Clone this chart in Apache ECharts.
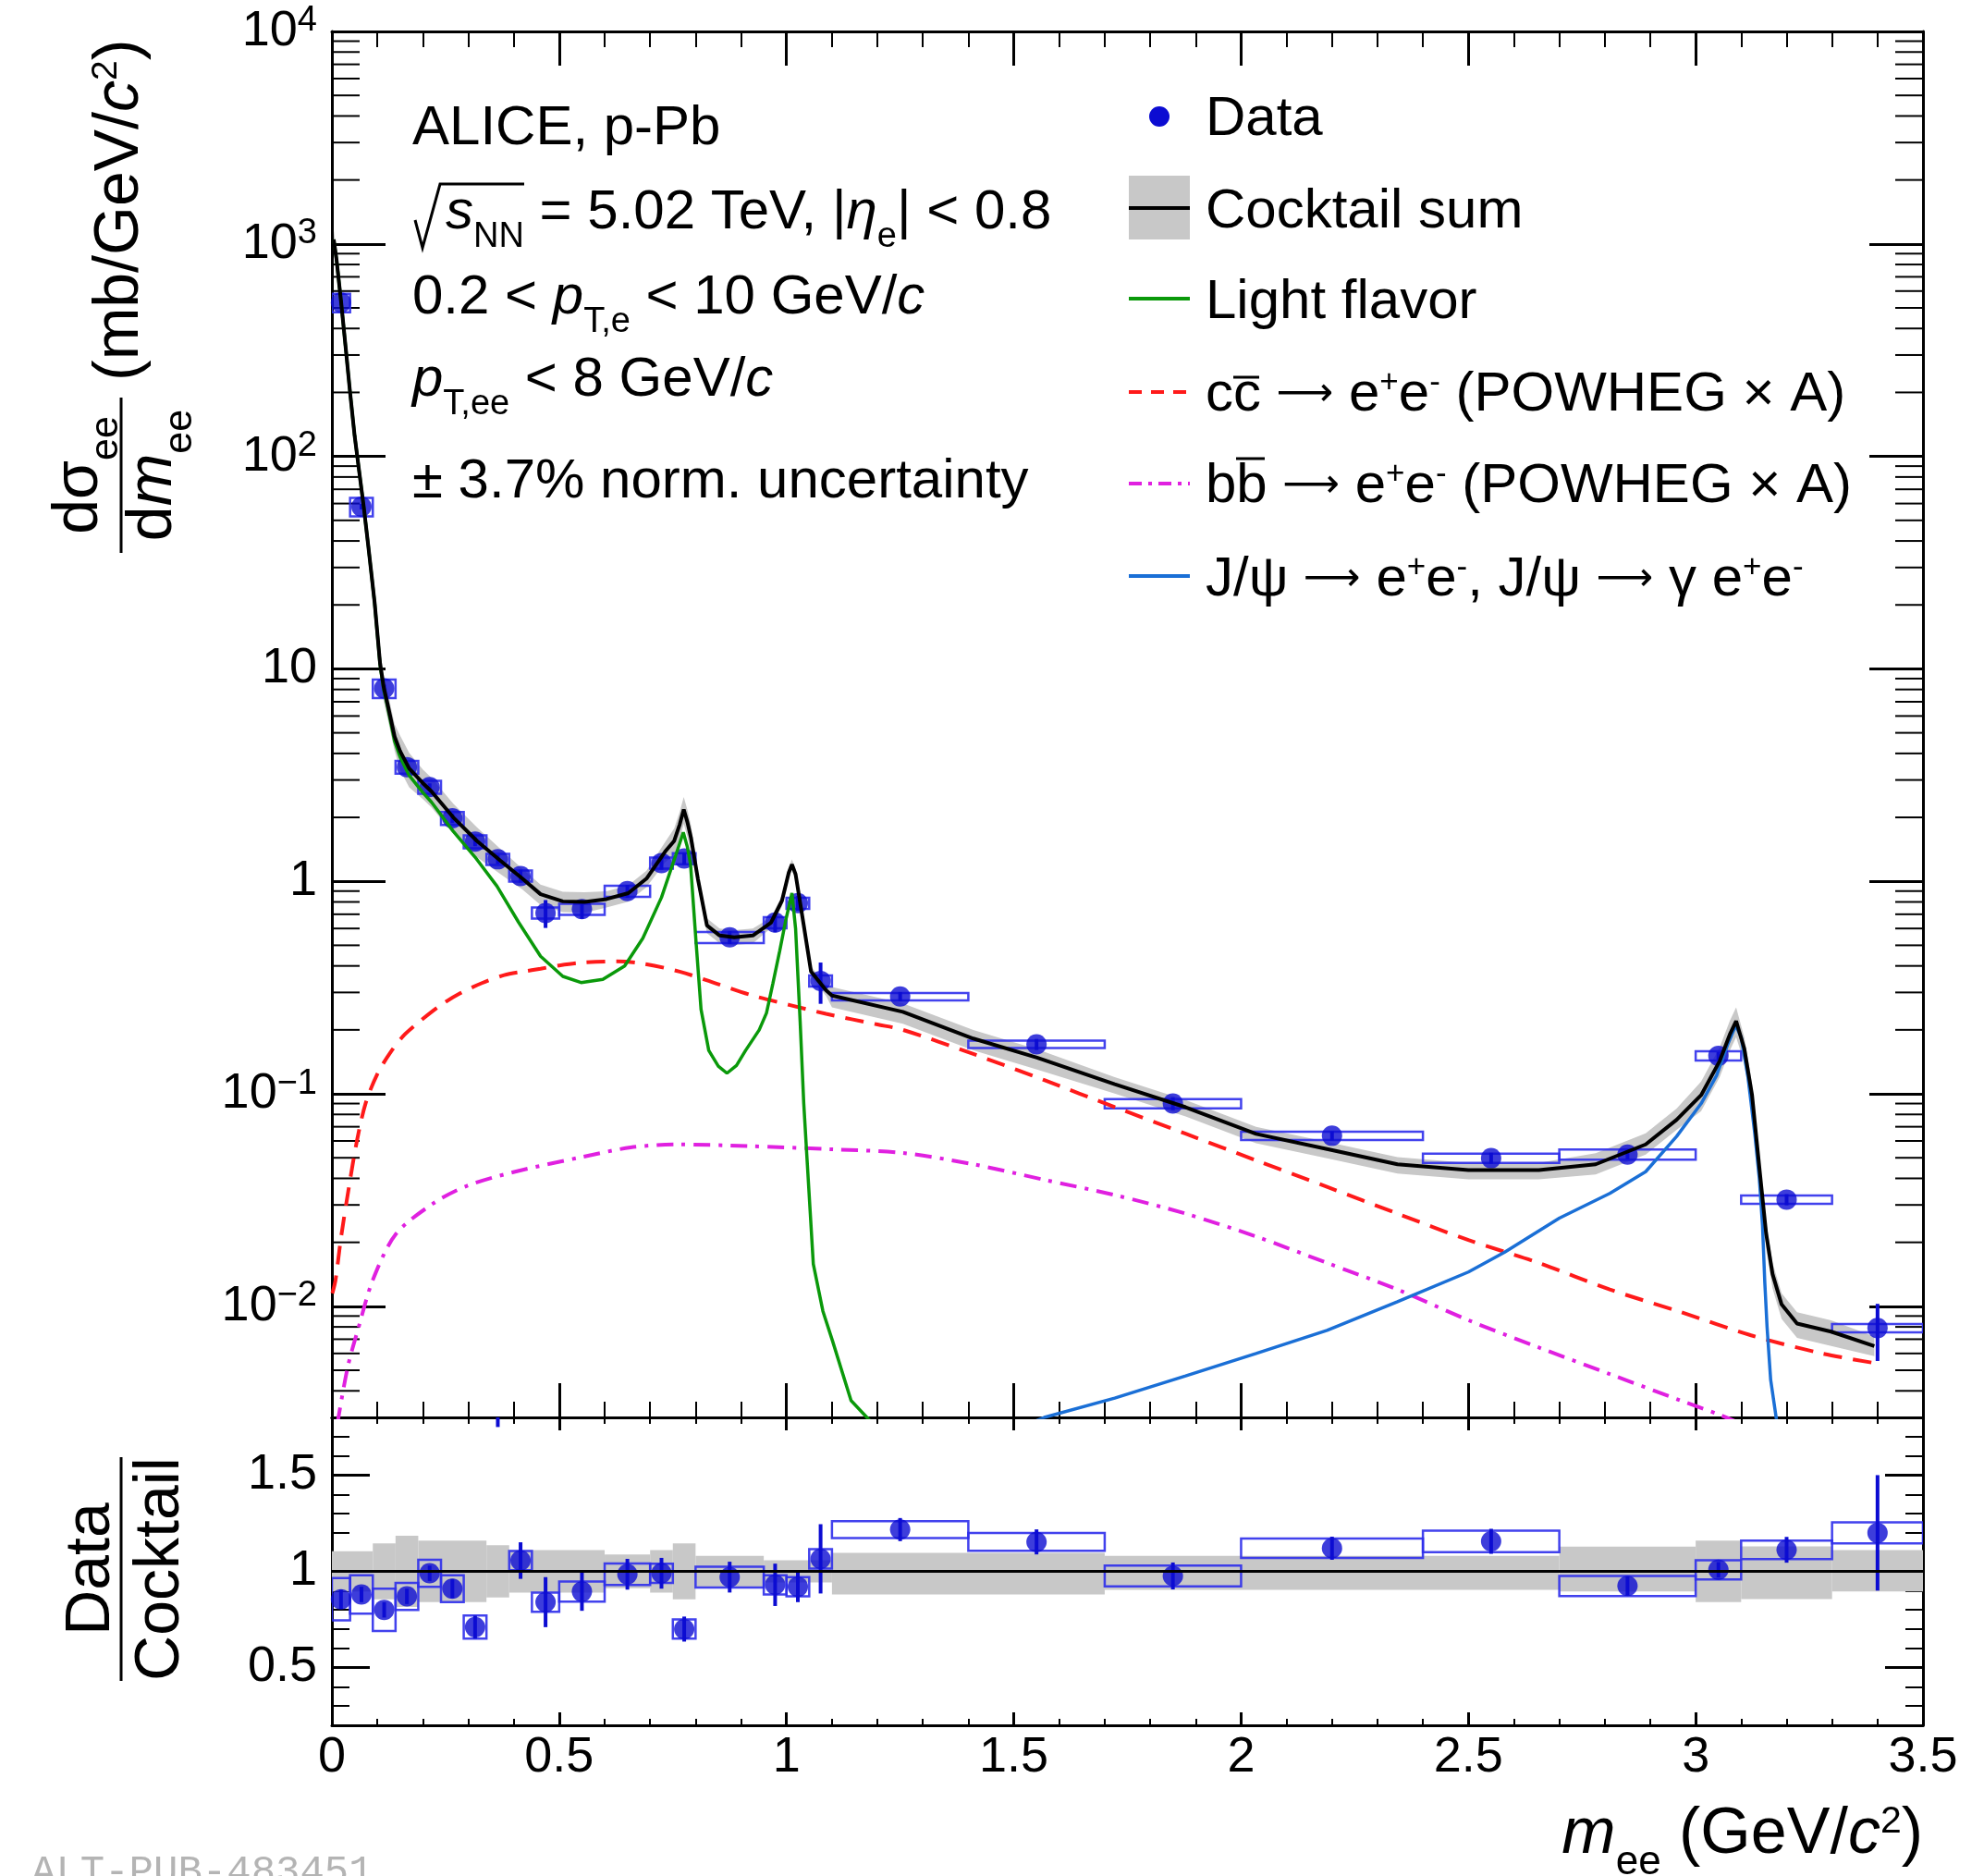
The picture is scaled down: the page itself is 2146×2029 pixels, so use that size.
<!DOCTYPE html>
<html>
<head>
<meta charset="utf-8">
<title>ALICE p-Pb dielectron mass spectrum</title>
<script src="https://cdn.jsdelivr.net/npm/echarts@6.0.0/dist/echarts.min.js"></script>
<style>
  html, body { margin: 0; padding: 0; background: #fff; }
  #chart { width: 2146px; height: 2029px; }
</style>
</head>
<body>
<div id="chart"></div>
<script>
// ---- values ----
const ratioTickLabels = ['0.5', '1', '1.5'];

// cocktail sum (black) [m, dsigma/dm]
const cocktail = [[0.004,1050],[0.01,850],[0.02,540],[0.03,330],[0.04,200],[0.05,125],[0.06,85],[0.07,58],[0.08,38],
  [0.094,20.5],[0.106,10.6],[0.114,8.2],[0.122,6.9],[0.138,4.8],[0.15,4.1],[0.17,3.4],[0.2,2.9],[0.219,2.65],[0.267,2.0],
  [0.319,1.55],[0.371,1.25],[0.419,1.03],[0.459,0.87],[0.508,0.805],[0.556,0.8],[0.604,0.825],[0.652,0.88],[0.692,1.03],
  [0.733,1.38],[0.753,1.55],[0.765,1.85],[0.774,2.18],[0.782,1.9],[0.79,1.6],[0.805,1.03],[0.825,0.62],[0.853,0.556],
  [0.885,0.545],[0.926,0.556],[0.966,0.64],[0.99,0.81],[1.005,1.1],[1.012,1.2],[1.02,1.08],[1.038,0.62],[1.054,0.376],
  [1.087,0.307],[1.1,0.29],[1.256,0.243],[1.411,0.182],[1.551,0.148],[1.722,0.111],[1.878,0.0865],[2.033,0.0648],
  [2.189,0.055],[2.344,0.0466],[2.5,0.0438],[2.655,0.0438],[2.78,0.0466],[2.89,0.0578],[2.958,0.0755],[3.012,0.0986],
  [3.053,0.143],[3.075,0.19],[3.089,0.22],[3.107,0.163],[3.124,0.0986],[3.141,0.043],[3.155,0.022],[3.169,0.0142],
  [3.189,0.0102],[3.223,0.0083],[3.298,0.0076],[3.393,0.0065]];

// light flavor (green)
const lightFlavor = [[0.004,1050],[0.01,850],[0.02,540],[0.03,330],[0.04,200],[0.05,125],[0.06,85],[0.07,58],[0.08,38],
  [0.094,20.4],[0.106,10.4],[0.114,8.0],[0.122,6.7],[0.138,4.55],[0.15,3.85],[0.17,3.15],[0.2,2.62],[0.219,2.36],
  [0.267,1.72],[0.315,1.3],[0.363,0.95],[0.411,0.64],[0.459,0.444],[0.508,0.357],[0.548,0.334],[0.596,0.346],
  [0.644,0.4],[0.684,0.54],[0.725,0.84],[0.757,1.34],[0.773,1.7],[0.782,1.45],[0.789,1.2],[0.801,0.52],[0.812,0.25],
  [0.829,0.16],[0.85,0.135],[0.869,0.125],[0.89,0.136],[0.91,0.16],[0.94,0.2],[0.956,0.24],[0.97,0.33],[0.985,0.47],
  [0.998,0.65],[1.012,0.88],[1.02,0.6],[1.03,0.22],[1.038,0.09],[1.045,0.05],[1.059,0.0158],[1.08,0.0095],
  [1.101,0.0069],[1.142,0.0036],[1.19,0.0028]];

// c cbar -> ee (red dashed)
const charm = [[0.001,0.0115],[0.008,0.0133],[0.02,0.021],[0.038,0.037],[0.055,0.06],[0.074,0.09],[0.1,0.124],
  [0.13,0.158],[0.16,0.19],[0.194,0.22],[0.24,0.262],[0.283,0.298],[0.33,0.332],[0.379,0.362],[0.42,0.376],
  [0.459,0.388],[0.5,0.402],[0.548,0.414],[0.628,0.42],[0.684,0.41],[0.765,0.376],[0.846,0.33],[0.926,0.29],
  [1.006,0.262],[1.087,0.238],[1.2,0.212],[1.256,0.2],[1.411,0.154],[1.567,0.116],[1.722,0.0866],[1.878,0.0649],
  [2.033,0.0486],[2.189,0.0365],[2.344,0.0273],[2.5,0.0205],[2.655,0.016],[2.811,0.012],[2.967,0.0094],
  [3.122,0.0073],[3.278,0.006],[3.395,0.0054]];

// b bbar -> ee (magenta dash-dot)
const beauty = [[0.012,0.0028],[0.035,0.0052],[0.059,0.008],[0.09,0.0133],[0.141,0.0219],[0.224,0.0306],
  [0.296,0.0368],[0.399,0.0428],[0.554,0.0506],[0.657,0.0559],[0.76,0.0578],[0.915,0.0568],[1.1,0.0548],
  [1.256,0.0527],[1.411,0.0466],[1.567,0.0394],[1.722,0.0334],[1.878,0.0273],[2.033,0.0213],[2.189,0.016],
  [2.344,0.012],[2.5,0.0086],[2.655,0.0064],[2.811,0.0048],[2.967,0.0036],[3.05,0.0031],[3.1,0.0028]];

// J/psi (azure)
const jpsi = [[1.55,0.0029],[1.567,0.003],[1.722,0.0037],[1.878,0.0047],[2.033,0.006],[2.189,0.0077],[2.344,0.0105],
  [2.5,0.0145],[2.58,0.018],[2.7,0.026],[2.811,0.034],[2.89,0.043],[2.958,0.063],[3.012,0.09],[3.046,0.122],
  [3.07,0.17],[3.088,0.21],[3.1,0.185],[3.115,0.12],[3.13,0.065],[3.14,0.04],[3.147,0.024],[3.152,0.013],
  [3.157,0.008],[3.165,0.0045],[3.178,0.0029]];

// data points
const binEdges = [0,0.04,0.09,0.14,0.19,0.24,0.29,0.34,0.39,0.44,0.5,0.6,0.7,0.75,0.8,0.95,1.0,1.05,1.1,1.4,1.7,2.0,2.4,2.7,3.0,3.1,3.3,3.5];
const dataM = [0.02,0.065,0.115,0.165,0.215,0.265,0.315,0.365,0.415,0.47,0.55,0.65,0.725,0.775,0.875,0.975,1.025,1.075,1.25,1.55,1.85,2.2,2.55,2.85,3.05,3.2,3.4];
const dataV = [530,58,8.1,3.45,2.78,1.98,1.54,1.27,1.06,0.71,0.74,0.9,1.22,1.28,0.545,0.64,0.79,0.34,0.287,0.171,0.09,0.0635,0.0498,0.0518,0.151,0.0318,0.0079];
const dataStat = [0.03,0.03,0.04,0.04,0.04,0.05,0.05,0.05,0.07,0.15,0.1,0.07,0.07,0.06,0.07,0.1,0.08,0.22,0.05,0.06,0.07,0.05,0.06,0.05,0.04,0.06,0.3];
const dataSys = [0.1,0.1,0.1,0.07,0.07,0.07,0.07,0.06,0.06,0.06,0.06,0.06,0.06,0.06,0.06,0.06,0.06,0.06,0.04,0.04,0.05,0.045,0.05,0.055,0.05,0.045,0.045];

// data / cocktail
const ratioV = [0.855,0.88,0.8,0.87,0.99,0.91,0.71,1.95,1.056,0.84,0.895,0.985,0.99,0.7,0.97,0.93,0.92,1.065,1.217,1.153,0.976,1.12,1.156,0.924,1.008,1.112,1.2];
const ratioStat = [0.05,0.04,0.04,0.04,0.04,0.05,0.06,0.2,0.095,0.13,0.1,0.08,0.08,0.065,0.08,0.11,0.08,0.18,0.06,0.065,0.07,0.06,0.065,0.05,0.04,0.067,0.3];
const ratioSys = [0.11,0.1,0.11,0.07,0.07,0.07,0.06,0.1,0.05,0.05,0.052,0.056,0.05,0.05,0.054,0.05,0.05,0.05,0.044,0.046,0.054,0.05,0.056,0.052,0.05,0.048,0.055];

// cocktail uncertainty band (relative)
const bandEdges = [0,0.09,0.14,0.19,0.34,0.39,0.6,0.7,0.75,0.8,0.95,1.1,1.7,2.7,3.0,3.1,3.3,3.5];
const bandHi = [0.105,0.145,0.185,0.16,0.136,0.11,0.088,0.11,0.145,0.08,0.058,0.096,0.08,0.128,0.16,0.13,0.11];
const bandLo = [0.105,0.145,0.185,0.16,0.136,0.11,0.088,0.11,0.145,0.08,0.058,0.12,0.096,0.104,0.16,0.144,0.104];

// ---- styling ----
const FONT = '"Liberation Sans", Arial, Helvetica, sans-serif';
const BLUE = '#0c0cd2';
const BOX = 'rgba(45,45,235,0.9)';
const GRAY = '#c8c8c8';

function bandAt(m) {
  for (let i = 0; i < bandHi.length; i++) {
    if (m >= bandEdges[i] && m < bandEdges[i + 1]) return [bandHi[i], bandLo[i]];
  }
  return [bandHi[bandHi.length - 1], bandLo[bandLo.length - 1]];
}

function xAx(grid, pos, major, minor, labels) {
  return {
    type: 'value', gridIndex: grid, position: pos, min: 0, max: 3.5, interval: 0.5,
    axisLine: {onZero: false, lineStyle: {color: '#000', width: 3}},
    axisTick: {inside: true, length: major, lineStyle: {color: '#000', width: 3}},
    minorTick: {show: true, splitNumber: 5, length: minor, lineStyle: {color: '#000', width: 2}},
    splitLine: {show: false}, minorSplitLine: {show: false},
    axisLabel: labels ? {show: true, margin: 8, fontSize: 54, fontFamily: FONT, color: '#000',
      showMinLabel: true, showMaxLabel: true} : {show: false}
  };
}

function logLabel(v) {
  const l = Math.log10(v), e = Math.round(l);
  if (Math.abs(l - e) > 1e-6) return '';
  if (e === 0) return '{b|1}';
  if (e === 1) return '{b|10}';
  return '{b|10}{s|' + (e < 0 ? '\u2212' + (-e) : e) + '}';
}

function yLog(pos, labels) {
  return {
    type: 'log', logBase: 10, gridIndex: 0, position: pos, min: 0.003, max: 10000,
    axisLine: {onZero: false, lineStyle: {color: '#000', width: 3}},
    axisTick: {inside: true, length: 58, lineStyle: {color: '#000', width: 3}},
    minorTick: {show: false}, splitLine: {show: false},
    axisLabel: labels ? {
      show: true, margin: 16, formatter: logLabel, showMinLabel: true, showMaxLabel: true,
      rich: {
        b: {fontSize: 54, lineHeight: 60, fontFamily: FONT, color: '#000'},
        s: {fontSize: 38, lineHeight: 41, verticalAlign: 'top', fontFamily: FONT, color: '#000'}
      }
    } : {show: false}
  };
}

function yRatio(pos, labels) {
  return {
    type: 'value', gridIndex: 1, position: pos, min: 0.2, max: 1.8, splitNumber: 3,
    axisLine: {onZero: false, lineStyle: {color: '#000', width: 3}},
    axisTick: {inside: true, length: 41, lineStyle: {color: '#000', width: 3}},
    minorTick: {show: true, splitNumber: 5, length: 19, lineStyle: {color: '#000', width: 2}},
    splitLine: {show: false}, minorSplitLine: {show: false},
    axisLabel: labels ? {
      show: true, margin: 16, fontSize: 54, fontFamily: FONT, color: '#000',
      formatter: function (v) {
        const t = ratioTickLabels.find(s => Math.abs(parseFloat(s) - v) < 1e-6);
        return t || '';
      }
    } : {show: false}
  };
}

const G0 = {xAxisIndex: 0, yAxisIndex: 0};
const G1 = {xAxisIndex: 2, yAxisIndex: 2};

function curve(pts, color, width, type, smooth) {
  return Object.assign({
    type: 'line', data: pts, symbol: 'none', showSymbol: false, smooth: smooth || false,
    clip: true, silent: true, lineStyle: {color: color, width: width, type: type || 'solid'}
  }, G0);
}

function boxRender(params, api) {
  const a = api.coord([api.value(0), api.value(3)]);
  const b = api.coord([api.value(1), api.value(2)]);
  return {type: 'rect', shape: {x: a[0], y: a[1], width: b[0] - a[0], height: b[1] - a[1]},
    style: {fill: 'none', stroke: BOX, lineWidth: 2.5}};
}
function barRender(params, api) {
  const a = api.coord([api.value(0), api.value(1)]);
  const b = api.coord([api.value(0), api.value(2)]);
  return {type: 'line', shape: {x1: a[0], y1: a[1], x2: b[0], y2: b[1]},
    style: {stroke: BLUE, lineWidth: 4}};
}

// minor decade ticks of the log axis (2..9 x 10^n), both sides of the frame
const logMinor = [];
for (let e = -3; e <= 3; e++) {
  for (let k = 2; k <= 9; k++) {
    const v = k * Math.pow(10, e);
    if (v > 0.00301 && v < 1e4) logMinor.push([0, v]);
  }
}

// data series
const topBoxes = dataM.map((m, i) => [binEdges[i], binEdges[i + 1], dataV[i] * (1 - dataSys[i]), dataV[i] * (1 + dataSys[i])]);
const topBars = dataM.map((m, i) => [m, dataV[i] * (1 - dataStat[i]), dataV[i] * (1 + dataStat[i])]);
const topPts = dataM.map((m, i) => [m, dataV[i]]);
const rBoxes = dataM.map((m, i) => [binEdges[i], binEdges[i + 1], ratioV[i] - ratioSys[i], ratioV[i] + ratioSys[i]]);
const rBars = dataM.map((m, i) => [m, ratioV[i] - ratioStat[i], ratioV[i] + ratioStat[i]]);
const rPts = dataM.map((m, i) => [m, ratioV[i]]);
const rBand = bandHi.map((h, i) => [bandEdges[i], bandEdges[i + 1], 1 - bandLo[i], 1 + h]);

// ---- text helpers ----
function richSet(fs) {
  const c = {fontFamily: FONT, fill: '#000', color: '#000'};
  const sup = Math.round(fs * 0.58);
  return {
    n: Object.assign({fontSize: fs, lineHeight: 1.5 * fs}, c),
    i: Object.assign({fontSize: fs, lineHeight: 1.5 * fs, fontStyle: 'italic'}, c),
    ar: Object.assign({fontSize: Math.round(fs * 0.72), lineHeight: 1.5 * fs}, c, {fontFamily: '"DejaVu Sans", sans-serif'}),
    sub: Object.assign({fontSize: Math.round(fs * 0.63), lineHeight: Math.round(fs * 0.66), verticalAlign: 'bottom'}, c),
    sup: Object.assign({fontSize: sup, lineHeight: sup, verticalAlign: 'top',
      padding: [Math.round(fs * 0.25), 0, 0, 0]}, c)
  };
}
function txt(x, base, str, fs, align) {
  return {type: 'text', x: x, y: base - 0.3465 * fs, silent: true, z: 100,
    style: {text: str, rich: richSet(fs), align: align || 'left', verticalAlign: 'middle',
      fontSize: fs, fontFamily: FONT, fill: '#000'}};
}
function rtxt(cx, cy, str, fs, align) {
  return {type: 'text', x: cx, y: cy, rotation: Math.PI / 2, silent: true, z: 100,
    style: {text: str, rich: richSet(fs), align: align || 'center', verticalAlign: 'middle',
      fontSize: fs, fontFamily: FONT, fill: '#000'}};
}
function seg(x1, y1, x2, y2, color, w, dash) {
  return {type: 'line', silent: true, z: 100, shape: {x1: x1, y1: y1, x2: x2, y2: y2},
    style: {stroke: color, lineWidth: w, lineDash: dash || null}};
}

const SUPPM = '{n|e}{sup|+}{n|e}{sup|-}';
const ARROW = '{n| }{ar|\u27f6}{n| }';
const graphics = [
  // top-left annotation
  txt(446, 160, '{n|ALICE, p-Pb}', 60),
  {type: 'polyline', silent: true, z: 100, shape: {points: [[449, 238], [457, 268], [476, 199], [567, 199]]},
    style: {stroke: '#000', lineWidth: 3, fill: null}},
  txt(482, 251, '{i|s}{sub|NN}{n| = 5.02 TeV, |}{i|\u03b7}{sub|e}{n|| < 0.8}', 60),
  txt(446, 343, '{n|0.2 < }{i|p}{sub|T,e}{n| < 10 GeV/}{i|c}', 60),
  txt(446, 432, '{i|p}{sub|T,ee}{n| < 8 GeV/}{i|c}', 60),
  txt(446, 542, '{n|\u00b1 3.7% norm. uncertainty}', 60),

  // legend
  {type: 'circle', silent: true, z: 100, shape: {cx: 1254, cy: 126, r: 11}, style: {fill: BLUE}},
  txt(1304, 150, '{n|Data}', 60),
  {type: 'rect', silent: true, z: 99, shape: {x: 1221, y: 190, width: 66, height: 69}, style: {fill: GRAY}},
  seg(1221, 225, 1287, 225, '#000', 4),
  txt(1304, 250, '{n|Cocktail sum}', 60),
  seg(1221, 323, 1287, 323, '#0a990a', 4),
  txt(1304, 348, '{n|Light flavor}', 60),
  seg(1221, 424, 1287, 424, '#ff1a1a', 4, [14, 10]),
  txt(1304, 448, '{n|cc}' + ARROW + SUPPM + '{n| (POWHEG \u00d7 A)}', 60),
  seg(1334, 408, 1362, 408, '#000', 3),
  seg(1221, 523, 1287, 523, '#e020e0', 4, [14, 7, 4, 7]),
  txt(1304, 547, '{n|bb}' + ARROW + SUPPM + '{n| (POWHEG \u00d7 A)}', 60),
  seg(1337, 496, 1368, 496, '#000', 3),
  seg(1221, 623, 1287, 623, '#1a6fd6', 4),
  txt(1304, 648, '{n|J/\u03c8}' + ARROW + SUPPM + '{n|, J/\u03c8}' + ARROW + '{n|\u03b3 }' + SUPPM, 60),

  // y title, top panel
  rtxt(86, 514, '{n|d\u03c3}{sub|ee}', 68),
  rtxt(166, 514, '{n|d}{i|m}{sub|ee}', 68),
  seg(131, 430, 131, 598, '#000', 3),
  rtxt(130, 412, '{n|(mb/GeV/}{i|c}{sup|2}{n|)}', 68, 'left'),

  // y title, ratio panel
  rtxt(99, 1697, '{n|Data}', 68),
  rtxt(174, 1697, '{n|Cocktail}', 68),
  seg(131, 1576, 131, 1818, '#000', 3),

  // x title
  txt(2080, 2009, '{i|m}{sub|ee}{n| (GeV/}{i|c}{sup|2}{n|)}', 70, 'right'),

  // figure id
  {type: 'text', x: 34, y: 2003, silent: true, z: 100,
    style: {text: 'ALT-PUB-483451', fontSize: 44, fontFamily: '"Liberation Mono", "DejaVu Sans Mono", monospace',
      fill: '#b4b4b4', align: 'left', verticalAlign: 'top'}}
];

const chart = echarts.init(document.getElementById('chart'));
chart.setOption({
  animation: false,
  backgroundColor: '#fff',
  grid: [
    {left: 359, top: 34, width: 1721, height: 1499},
    {left: 359, top: 1533, width: 1721, height: 333}
  ],
  xAxis: [xAx(0, 'bottom', 37, 17, false), xAx(0, 'top', 37, 17, false), xAx(1, 'bottom', 14, 7, true), xAx(1, 'top', 14, 7, false)],
  yAxis: [yLog('left', true), yLog('right', false), yRatio('left', true), yRatio('right', false)],
  series: [
    // top panel
    Object.assign({type: 'custom', data: [[1, 1]], encode: {x: 0, y: 1}, clip: true, silent: true,
      renderItem: function (params, api) {
        const up = [], dn = [];
        cocktail.forEach(function (p) {
          const b = bandAt(p[0]);
          up.push(api.coord([p[0], p[1] * (1 + b[0])]));
          dn.push(api.coord([p[0], p[1] * (1 - b[1])]));
        });
        return {type: 'polygon', shape: {points: up.concat(dn.reverse())}, style: {fill: GRAY}};
      }}, G0),
    curve(charm, '#ff1a1a', 4, [20, 12], 0.3),
    curve(beauty, '#e020e0', 4, [18, 9, 4, 9], 0.3),
    curve(jpsi, '#1a6fd6', 3.5),
    curve(lightFlavor, '#0a990a', 3.5),
    curve(cocktail, '#000', 4),
    Object.assign({type: 'custom', data: logMinor, encode: {x: 0, y: 1}, silent: true, renderItem: function (params, api) {
      const cs = params.coordSys;
      const y = api.coord([0, api.value(1)])[1];
      return {type: 'group', children: [
        {type: 'line', shape: {x1: cs.x, y1: y, x2: cs.x + 30, y2: y}, style: {stroke: '#000', lineWidth: 2}},
        {type: 'line', shape: {x1: cs.x + cs.width, y1: y, x2: cs.x + cs.width - 30, y2: y}, style: {stroke: '#000', lineWidth: 2}}
      ]};
    }}, G0),
    Object.assign({type: 'custom', data: topBoxes, encode: {x: [0, 1], y: [2, 3]}, clip: true, silent: true, renderItem: boxRender}, G0),
    Object.assign({type: 'custom', data: topBars, encode: {x: 0, y: [1, 2]}, clip: true, silent: true, renderItem: barRender}, G0),
    Object.assign({type: 'scatter', data: topPts, symbol: 'circle', symbolSize: 22, clip: true, silent: true,
      itemStyle: {color: BLUE}}, G0),

    // ratio panel
    Object.assign({type: 'custom', data: rBand, encode: {x: [0, 1], y: [2, 3]}, clip: true, silent: true,
      renderItem: function (params, api) {
        const a = api.coord([api.value(0), api.value(3)]);
        const b = api.coord([api.value(1), api.value(2)]);
        return {type: 'rect', shape: {x: a[0], y: a[1], width: b[0] - a[0], height: b[1] - a[1]}, style: {fill: GRAY}};
      }}, G1),
    Object.assign({type: 'line', data: [[0, 1], [3.5, 1]], symbol: 'none', silent: true,
      lineStyle: {color: '#000', width: 3}}, G1),
    Object.assign({type: 'custom', data: rBoxes, encode: {x: [0, 1], y: [2, 3]}, clip: true, silent: true, renderItem: boxRender}, G1),
    Object.assign({type: 'custom', data: rBars, encode: {x: 0, y: [1, 2]}, clip: true, silent: true, renderItem: barRender}, G1),
    Object.assign({type: 'scatter', data: rPts, symbol: 'circle', symbolSize: 22, clip: true, silent: true,
      itemStyle: {color: BLUE}}, G1)
  ],
  graphic: {elements: graphics}
});
</script>
</body>
</html>
